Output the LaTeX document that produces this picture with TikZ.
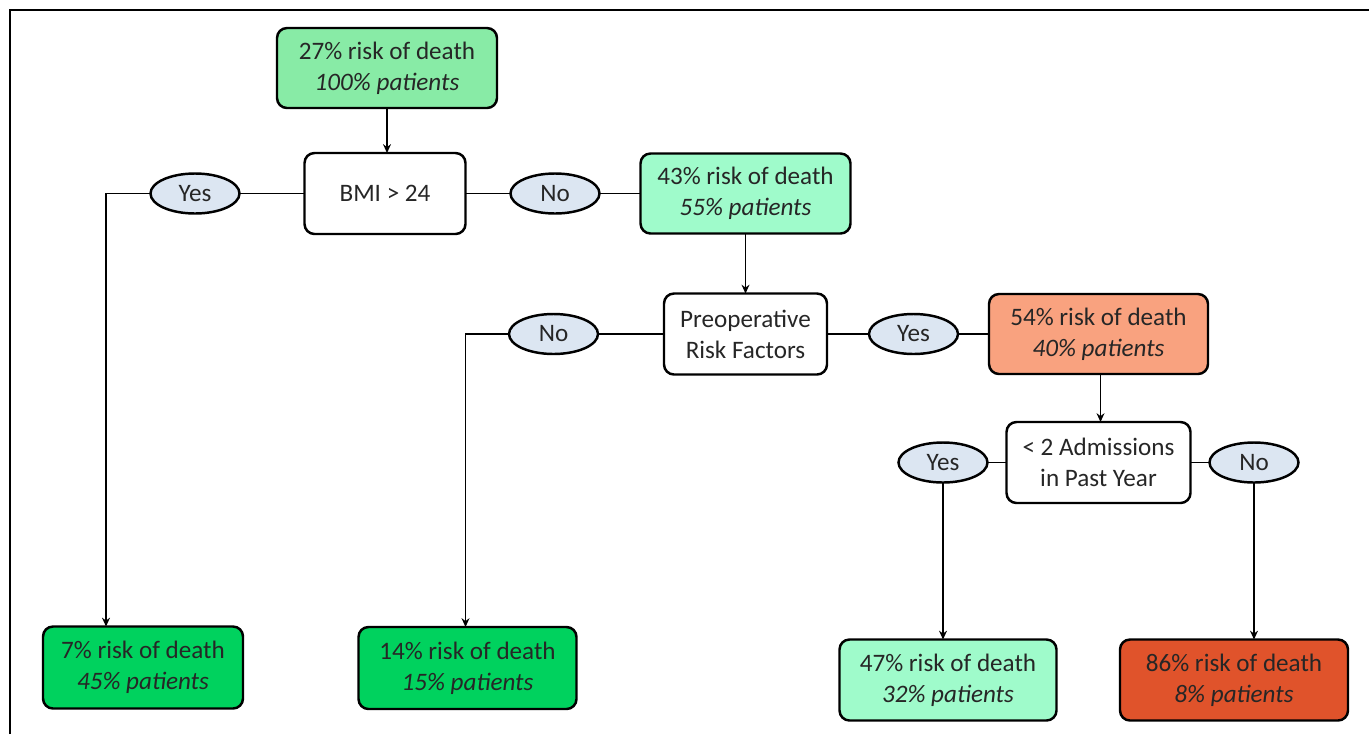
\documentclass[tikz,border=0pt]{standalone}
\usepackage{fontspec}
\setmainfont{Carlito}
\usepackage{xcolor}
\usetikzlibrary{positioning,shapes.geometric,arrows.meta,calc}

\definecolor{rootgreen}{HTML}{88EBA6}
\definecolor{mint}{HTML}{9FFBCB}
\definecolor{salmon}{HTML}{F9A27F}
\definecolor{leafgreen}{HTML}{00D25E}
\definecolor{redorange}{HTML}{E0532B}
\definecolor{answerblue}{HTML}{DCE6F2}

\begin{document}
\begin{tikzpicture}[
  node distance=1cm and 1cm,
  every node/.style={font=\fontsize{14.3}{17.6}\selectfont, text=black!85, outer sep=0pt},
  risk/.style={draw, rectangle, rounded corners=0.2cm, line width=1.4pt, minimum height=1.6cm, align=center, inner sep=2pt},
  question/.style={draw, rectangle, rounded corners=0.2cm, line width=1.4pt, fill=white, minimum height=1.62cm, align=center, inner sep=2pt},
  answer/.style={draw, ellipse, line width=1.4pt, fill=answerblue, minimum width=1.78cm, minimum height=0.8cm, inner sep=0pt},
  arrow/.style={-{Stealth[length=5pt,width=4.5pt]}, line width=1.1pt},
  link/.style={line width=1.1pt}
]
\useasboundingbox (0,0) rectangle (27.38,-14.68);

% Frame
\draw[line width=1.1pt] (0.2,-14.68) -- (0.2,-0.2) -- (27.38,-0.2);

% Top of tree
\node[risk, fill=rootgreen, minimum width=4.4cm] (root) at (7.74,-1.36) {27\% risk of death\\\textit{100\% patients}};
\node[question, minimum width=3.22cm, below=0.9cm of root, xshift=-0.04cm] (bmi) {BMI > 24};
\node[answer, left=1.3cm of bmi] (yesbmi) {Yes};
\node[answer, right=0.9cm of bmi] (nobmi) {No};
\node[risk, fill=mint, minimum width=4.2cm, right=0.82cm of nobmi] (risk43) {43\% risk of death\\\textit{55\% patients}};

% Second split
\node[question, minimum width=3.26cm, below=1.2cm of risk43] (preop) {Preoperative\\Risk Factors};
\node[answer, left=1.32cm of preop] (nopreop) {No};
\node[answer, right=0.84cm of preop] (yespreop) {Yes};
\node[risk, fill=salmon, minimum width=4.38cm, right=0.62cm of yespreop] (risk54) {54\% risk of death\\\textit{40\% patients}};

% Third split
\node[question, minimum width=3.68cm, below=0.96cm of risk54] (admit) {< 2 Admissions\\in Past Year};
\node[answer, left=0.38cm of admit] (yesadmit) {Yes};
\node[answer, right=0.38cm of admit] (noadmit) {No};

% Leaves
\node[risk, fill=leafgreen, minimum width=4.0cm, minimum height=1.64cm, below=8.26cm of yesbmi, xshift=-1.04cm] (risk7) {7\% risk of death\\\textit{45\% patients}};
\node[risk, fill=leafgreen, minimum width=4.36cm, minimum height=1.64cm, below=5.46cm of nopreop, xshift=-1.72cm] (risk14) {14\% risk of death\\\textit{15\% patients}};
\node[risk, fill=mint, minimum width=4.34cm, minimum height=1.62cm, below=3.14cm of yesadmit, xshift=0.1cm] (risk47) {47\% risk of death\\\textit{32\% patients}};
\node[risk, fill=redorange, minimum width=4.56cm, minimum height=1.62cm, below=3.14cm of noadmit, xshift=-0.4cm] (risk86) {86\% risk of death\\\textit{8\% patients}};

% Arrows down
\draw[arrow] (root) -- (root |- bmi.north);
\draw[arrow] (risk43) -- (preop);
\draw[arrow] ([xshift=0.04cm]risk54.south) -- ([xshift=0.04cm]risk54.south |- admit.north);

% Links to answers
\draw[link] (yesbmi) -- (bmi);
\draw[link] (bmi) -- (nobmi);
\draw[link] (nobmi) -- (risk43);
\draw[link] (nopreop) -- (preop);
\draw[link] (preop) -- (yespreop);
\draw[link] (yespreop) -- (risk54);
\draw[link] (yesadmit) -- (admit);
\draw[link] (admit) -- (noadmit);

% Arrows to leaves
\draw[arrow] (yesbmi.west) -| ([xshift=-0.74cm]risk7.north);
\draw[arrow] (nopreop.west) -| ([xshift=-0.04cm]risk14.north);
\draw[arrow] (yesadmit.south) -- (yesadmit.south |- risk47.north);
\draw[arrow] (noadmit.south) -- (noadmit.south |- risk86.north);

\end{tikzpicture}
\end{document}
